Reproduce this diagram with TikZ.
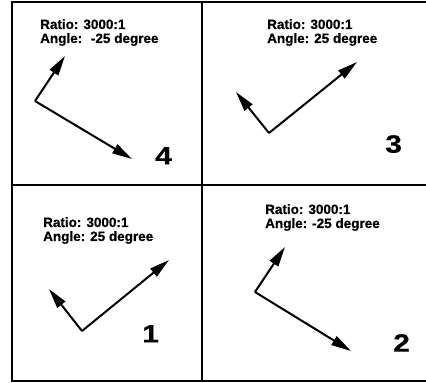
\documentclass[tikz,border=0pt]{standalone}
\usepackage{fontspec}
\setmainfont{Liberation Sans}[BoldFeatures={FakeBold=0.6}]
\usetikzlibrary{arrows.meta}
\tikzset{
  frame/.style={line width=2pt, line cap=rect},
  vec/.style={line width=2pt, -{Triangle[length=20pt,width=10pt]}},
  info/.style={anchor=north west, inner sep=0pt, align=left,
    font=\fontsize{13.5}{14}\selectfont\bfseries},
  num/.style={anchor=north west, inner sep=0pt, xscale=1.2,
    font=\fontsize{25}{25}\selectfont\bfseries}
}
\begin{document}
\begin{tikzpicture}[x=1pt,y=-1pt]
\useasboundingbox (0,0) rectangle (426,383);
% frame
\coordinate (tl) at (12,2);
\coordinate (tr) at (426,2);
\coordinate (bl) at (12,381);
\coordinate (br) at (426,381);
\coordinate (mt) at (202,2);
\coordinate (mb) at (202,381);
\coordinate (ml) at (12,185);
\coordinate (mr) at (426,185);
\draw[frame] (tr) -- (tl) -- (bl) -- (br);
\draw[frame] (mt) -- (mb);
\draw[frame] (ml) -- (mr);
% panel 4 (top left)
\node[info] (t4) at (40,19) {Ratio: 3000:1\\Angle: \ -25 degree};
\coordinate (o4) at (35,101);
\coordinate (a4) at (65,56);
\coordinate (b4) at (132,159);
\draw[vec] (o4) -- (a4);
\draw[vec] (o4) -- (b4);
\node[num] (n4) at (155,147) {4};
% panel 3 (top right)
\node[info] (t3) at (267,19) {Ratio: 3000:1\\Angle: 25 degree};
\coordinate (o3) at (269,133);
\coordinate (a3) at (236,92);
\coordinate (b3) at (357,62);
\draw[vec] (o3) -- (a3);
\draw[vec] (o3) -- (b3);
\node[num] (n3) at (385,135) {3};
% panel 1 (bottom left)
\node[info] (t1) at (43,217) {Ratio: 3000:1\\Angle: 25 degree};
\coordinate (o1) at (82,331);
\coordinate (a1) at (49,289);
\coordinate (b1) at (169,260);
\draw[vec] (o1) -- (a1);
\draw[vec] (o1) -- (b1);
\node[num] (n1) at (142,325) {1};
% panel 2 (bottom right)
\node[info] (t2) at (265,204) {Ratio: 3000:1\\Angle: -25 degree};
\coordinate (o2) at (255,292);
\coordinate (a2) at (285,247);
\coordinate (b2) at (351,351);
\draw[vec] (o2) -- (a2);
\draw[vec] (o2) -- (b2);
\node[num] (n2) at (393,334) {2};
\end{tikzpicture}
\end{document}
